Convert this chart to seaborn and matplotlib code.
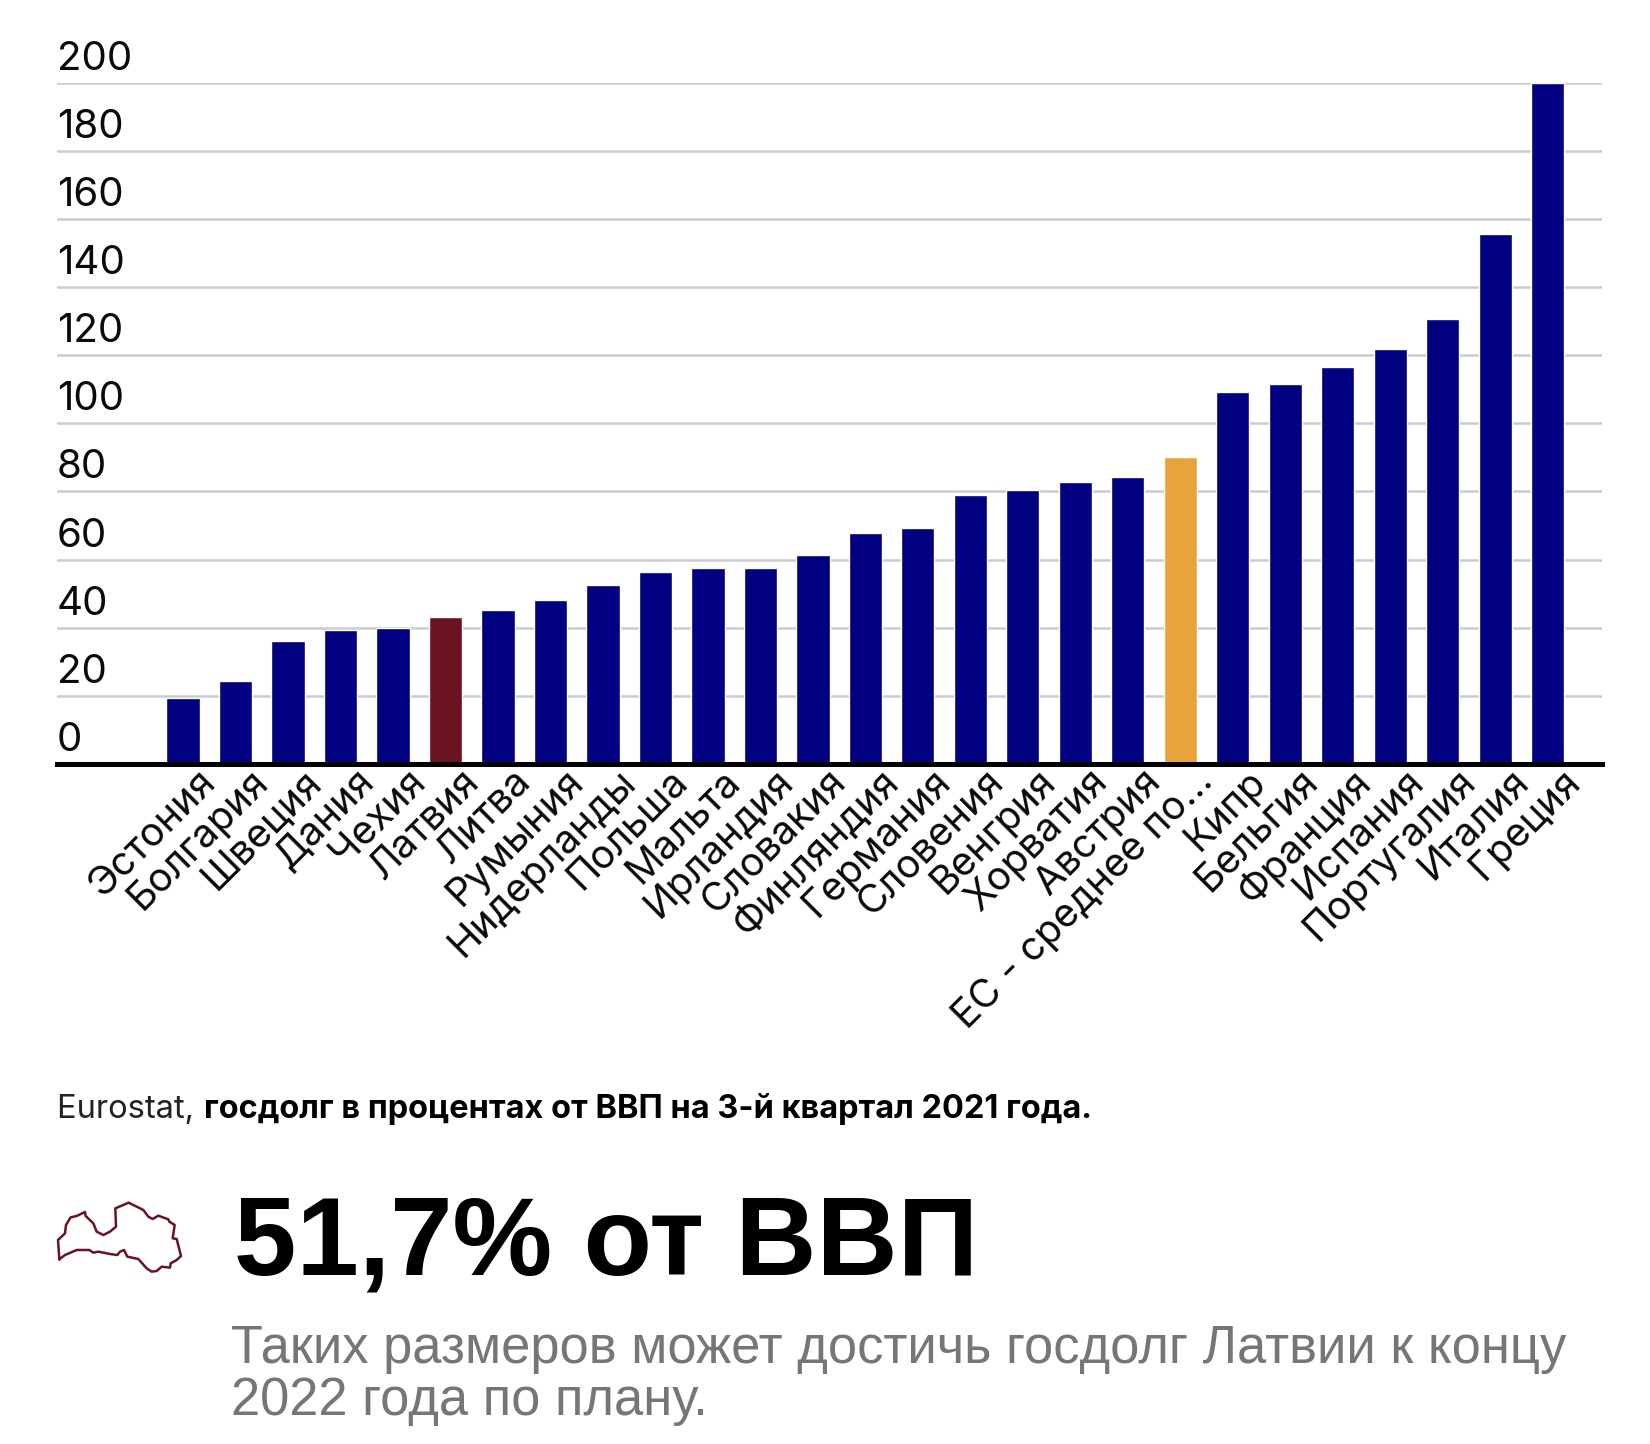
import pandas as pd
import seaborn as sns
from matplotlib import pyplot as plt
from matplotlib.transforms import ScaledTranslation

countries = ["Эстония", "Болгария", "Швеция", "Дания", "Чехия", "Латвия", "Литва",
             "Румыния", "Нидерланды", "Польша", "Мальта", "Ирландия", "Словакия",
             "Финляндия", "Германия", "Словения", "Венгрия", "Хорватия", "Австрия",
             "ЕС - среднее по...", "Кипр", "Бельгия", "Франция", "Испания",
             "Португалия", "Италия", "Греция"]
debt = [19.5, 24.5, 36.2, 39.3, 39.9, 43.0, 45.2, 48.0, 52.6, 56.3, 57.6, 57.6, 61.3,
        67.8, 69.3, 79.0, 80.5, 82.7, 84.2, 90.0, 109.3, 111.5, 116.4, 121.7, 130.6,
        155.4, 200.0]
y_ticks = [0, 20, 40, 60, 80, 100, 120, 140, 160, 180, 200]

# outline of the map icon, traced in pixels of a 1200x450 crop
icon_x = [88, 84, 105, 108, 122, 140, 165, 167, 190, 200, 220, 240, 258, 256, 275, 296,
          320, 340, 355, 368, 385, 415, 418, 434, 428, 440, 453, 440, 422, 420, 395, 380,
          365, 350, 325, 292, 282, 270, 262, 240, 205, 190, 178, 140, 105, 88]
icon_y = [268, 210, 190, 165, 142, 138, 126, 138, 160, 185, 195, 185, 170, 115, 107, 98,
          110, 120, 140, 147, 137, 148, 155, 165, 205, 207, 258, 270, 280, 293, 290, 303,
          305, 295, 267, 260, 240, 245, 255, 252, 245, 248, 240, 240, 255, 268]

W, H = 1650, 1444
NAVY, LATVIA, EU = "#000080", "#6b1320", "#e9a33b"

sns.set_theme(style="white")
plt.rcParams["font.family"] = ["Inter", "DejaVu Sans"]

fig = plt.figure(figsize=(W / 100, H / 100), dpi=100)
ax = fig.add_axes([57 / W, 1 - 764 / H, (1602 - 57) / W, (764 - 82.5) / H])

df = pd.DataFrame({"country": countries, "debt": debt})
colors = {c: NAVY for c in countries}
colors["Латвия"] = LATVIA
colors["ЕС - среднее по..."] = EU

sns.barplot(data=df, x="country", y="debt", hue="country", palette=colors, dodge=False,
            legend=False, width=0.63, saturation=1, zorder=3, ax=ax)

ax.set_xlim(-2.4, 27.03)
ax.set_ylim(0, 200)
ax.set_xlabel("")
ax.set_ylabel("")
ax.set_yticks(y_ticks)
ax.yaxis.grid(True, color="#cccccc", linewidth=1.8, zorder=0)
ax.set_axisbelow(True)
sns.despine(ax=ax, left=True, top=True, right=True)
ax.spines["bottom"].set_color("black")
ax.spines["bottom"].set_linewidth(3.6)
ax.spines["bottom"].set_zorder(5)

ax.tick_params(axis="x", length=0, pad=-1, labelsize=28.5, labelcolor="#0a0a0a")
ax.tick_params(axis="y", length=0, pad=0, labelsize=29, labelcolor="#0a0a0a")
for lab in ax.get_xticklabels():
    lab.set_rotation(45)
    lab.set_ha("right")
    lab.set_va("top")
    lab.set_rotation_mode("anchor")
    lab.set_transform(lab.get_transform() + ScaledTranslation(0.14, 0, fig.dpi_scale_trans))
for lab in ax.get_yticklabels():
    lab.set_ha("left")
    lab.set_va("bottom")
    lab.set_transform(lab.get_transform() + ScaledTranslation(0, 5 / 100, fig.dpi_scale_trans))

fig.text(57 / W, 1 - 1118 / H, "Eurostat, ", fontsize=23.5, color="#222222", va="baseline")
fig.text(204 / W, 1 - 1118 / H, "госдолг в процентах от ВВП на 3-й квартал 2021 года.",
         fontsize=23.4, fontweight="bold", color="black", va="baseline")

fig.text(234 / W, 1 - 1275 / H, "51,7% от ВВП", fontsize=80.8, fontweight="bold",
         family="Liberation Sans", color="black", va="baseline")
fig.text(231 / W, 1 - 1363 / H, "Таких размеров может достичь госдолг Латвии к концу",
         fontsize=37.8, family="Liberation Sans", color="#767676", va="baseline")
fig.text(231 / W, 1 - 1415 / H, "2022 года по плану.",
         fontsize=37.8, family="Liberation Sans", color="#767676", va="baseline")

icon = fig.add_axes([30 / W, 1 - 1320 / H, 400 / W, 150 / H])
icon.plot(icon_x, icon_y, color=LATVIA, linewidth=1.8)
icon.set_xlim(0, 1200)
icon.set_ylim(450, 0)
icon.axis("off")

fig.savefig("out.png", dpi=100, facecolor="white")
